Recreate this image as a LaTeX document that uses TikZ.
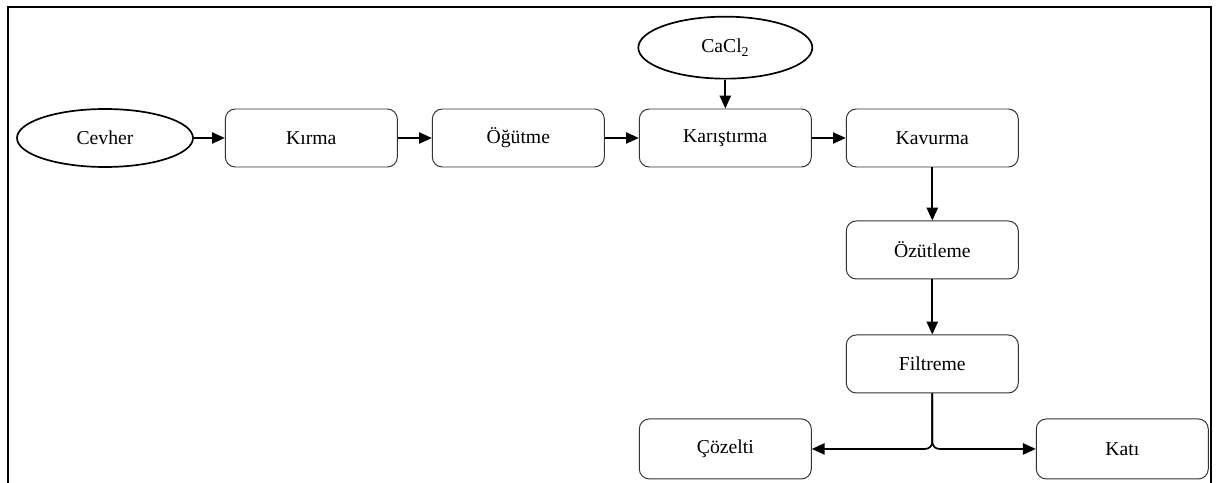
\documentclass[tikz,border=0pt]{standalone}
\usepackage{fontspec}
\setmainfont{Liberation Serif}
\usetikzlibrary{shapes,arrows.meta,positioning}

\begin{document}
\begin{tikzpicture}[node distance=0.85cm,
    block/.style={rectangle,rounded corners=0.25cm,draw=black!80,line width=0.7pt,minimum width=4.3cm,minimum height=1.45cm,font=\fontsize{14}{16}\selectfont},
    source/.style={ellipse,draw,line width=1.2pt,minimum width=4.4cm,minimum height=1.45cm,inner sep=0pt,font=\fontsize{14}{16}\selectfont},
    arrow/.style={-{Triangle[length=0.32cm,width=0.28cm]},line width=1.2pt}]
    \useasboundingbox (0,0) rectangle (30.425,-12.075);
    \draw[line width=0.8pt] (0.2,-12.075) |- (30.275,-0.175) -- (30.275,-12.075);
    % main line
    \node[source] (cevher) at (2.625,-3.45) {Cevher};
    \node[block,right=0.775cm of cevher] (kirma) {Kırma};
    \node[block,right=of kirma] (ogutme) {Öğütme};
    \node[block,right=of ogutme] (karistirma) {Karıştırma};
    \node[block,right=of karistirma] (kavurma) {Kavurma};
    \node[source,minimum width=4.35cm,minimum height=1.55cm,above=0.725cm of karistirma] (cacl) {CaCl\textsubscript{2}};
    % downward branch
    \node[block,below=1.325cm of kavurma] (ozutleme) {Özütleme};
    \node[block,below=1.375cm of ozutleme] (filtreme) {Filtreme};
    \node[block,minimum height=1.5cm,below left=0.625cm and 0.85cm of filtreme] (cozelti) {Çözelti};
    \node[block,minimum height=1.5cm,below right=0.625cm and 0.425cm of filtreme] (kati) {Katı};
    \draw[arrow] (cevher) -- (kirma);
    \draw[arrow] (kirma) -- (ogutme);
    \draw[arrow] (ogutme) -- (karistirma);
    \draw[arrow] (karistirma) -- (kavurma);
    \draw[arrow] (cacl) -- (karistirma);
    \draw[arrow] (kavurma) -- (ozutleme);
    \draw[arrow] (ozutleme) -- (filtreme);
    \draw[arrow,rounded corners=5pt] (filtreme.south) |- (cozelti.east);
    \draw[arrow,rounded corners=5pt] (filtreme.south) |- (kati.west);
\end{tikzpicture}
\end{document}
